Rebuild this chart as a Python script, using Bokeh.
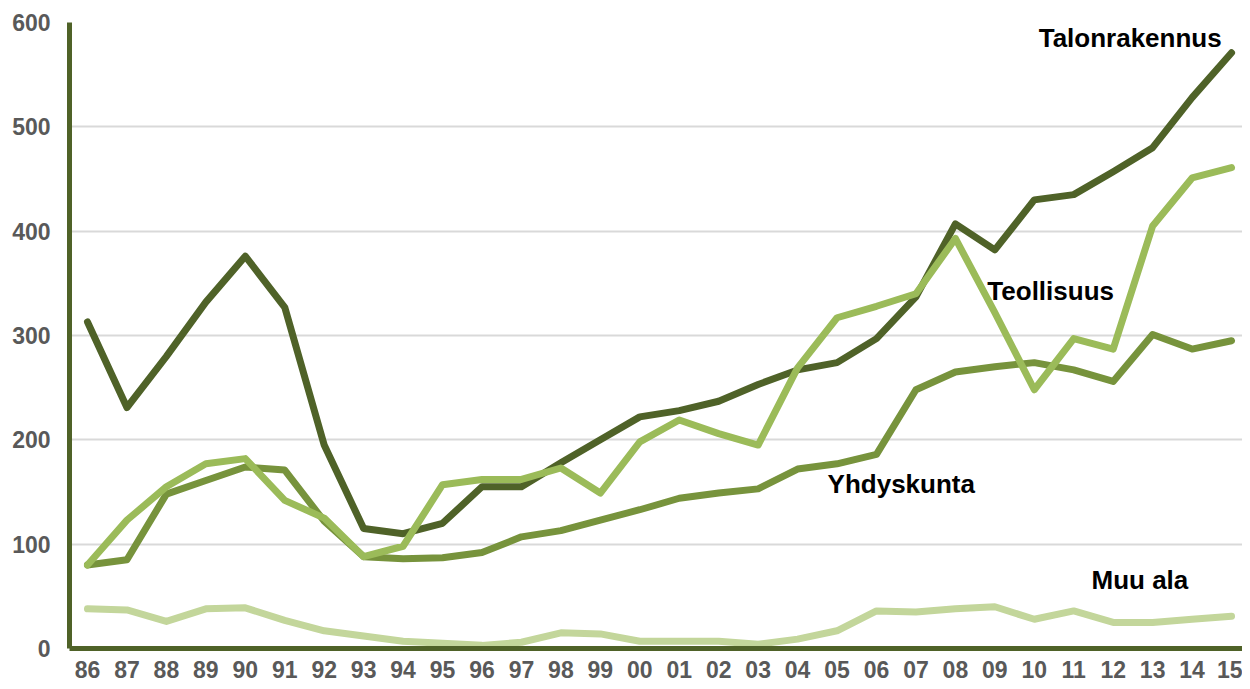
from bokeh.plotting import figure
from bokeh.models import ColumnDataSource, FixedTicker, Range1d, Label
from bokeh.embed import file_html
from bokeh.resources import INLINE

years = ["86", "87", "88", "89", "90", "91", "92", "93", "94", "95", "96", "97", "98", "99",
         "00", "01", "02", "03", "04", "05", "06", "07", "08", "09", "10", "11", "12", "13", "14", "15"]

talonrakennus = [313, 231, 280, 332, 376, 327, 195, 115, 110, 120, 155, 155, 178, 200,
                 222, 228, 237, 253, 267, 274, 297, 337, 407, 382, 430, 435, 457, 480, 528, 571]
teollisuus = [80, 123, 155, 177, 182, 142, 125, 88, 98, 157, 162, 162, 173, 149,
              198, 219, 206, 195, 269, 317, 328, 340, 393, 322, 248, 297, 287, 405, 451, 461]
yhdyskunta = [80, 85, 148, 161, 174, 171, 122, 88, 86, 87, 92, 107, 113, 123,
              133, 144, 149, 153, 172, 177, 186, 248, 265, 270, 274, 267, 256, 301, 287, 295]
muu_ala = [38, 37, 26, 38, 39, 27, 17, 12, 7, 5, 3, 6, 15, 14,
           7, 7, 7, 4, 9, 17, 36, 35, 38, 40, 28, 36, 25, 25, 28, 31]

colors = ["#4F6228", "#77933C", "#9BBB59", "#C3D69B"]

y_ticks = [0, 100, 200, 300, 400, 500, 600]

x = list(range(len(years)))
src = ColumnDataSource(dict(x=x, tal=talonrakennus, teo=teollisuus, yhd=yhdyskunta, muu=muu_ala))

W = 1242
p = figure(width=W, height=684, output_backend="svg", toolbar_location=None,
           x_range=Range1d(-0.456, -0.456 + (W - 69) / 39.45), y_range=Range1d(0, 600),
           min_border_left=69, min_border_right=0, min_border_top=22, min_border_bottom=36)
p.outline_line_color = None
p.background_fill_color = "white"
p.border_fill_color = "white"

# grid
p.xgrid.grid_line_color = None
p.ygrid.grid_line_color = "#D9D9D9"
p.ygrid.grid_line_width = 2

# axes
p.yaxis.ticker = FixedTicker(ticks=y_ticks)
p.xaxis.ticker = FixedTicker(ticks=x)
p.xaxis.major_label_overrides = {i: y for i, y in enumerate(years)}
for ax in (p.xaxis[0], p.yaxis[0]):
    ax.axis_line_color = "#4F6228"
    ax.axis_line_width = 5
    ax.major_tick_line_color = None
    ax.minor_tick_line_color = None
    ax.major_label_text_font = "Liberation Sans"
    ax.major_label_text_font_style = "bold"
    ax.major_label_text_font_size = "23px"
    ax.major_label_text_color = "#595959"
p.yaxis.major_label_standoff = 13
p.xaxis.major_label_standoff = 6

keys = ["tal", "yhd", "teo", "muu"]
order = [3, 0, 1, 2]
for i in order:
    p.line("x", keys[i], source=src, line_color=colors[i], line_width=7,
           line_join="round", line_cap="round")

labels = [
    ("Talonrakennus", 28.75, 585, "right"),
    ("Teollisuus", 22.81, 343, "left"),
    ("Yhdyskunta", 18.76, 158, "left"),
    ("Muu ala", 25.45, 66, "left"),
]
for txt, lx, ly, al in labels:
    p.add_layout(Label(x=lx, y=ly, text=txt, text_align=al, text_baseline="middle",
                       text_font="Liberation Sans", text_font_style="bold",
                       text_font_size="26px", text_color="black"))

open("out.html", "w").write(file_html(p, INLINE))
